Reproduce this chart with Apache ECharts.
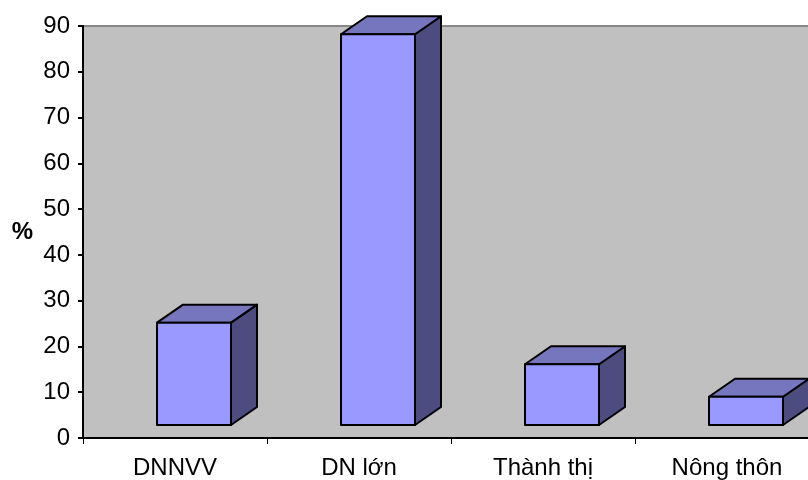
<!DOCTYPE html>
<html>
<head>
<meta charset="utf-8">
<script src="https://cdn.jsdelivr.net/npm/echarts@6/dist/echarts.min.js"></script>
<style>
  html, body { margin: 0; padding: 0; background: #fff; overflow: hidden; }
  #chart { width: 830px; height: 480px; }
</style>
</head>
<body>
<div id="chart"></div>
<script>
// Share (%) by group
const categories = ['DNNVV', 'DN lớn', 'Thành thị', 'Nông thôn'];
const values = [25.2, 88.2, 16.1, 9.0];
const yTicks = { min: 0, max: 90, interval: 10 };

const FONT = '"Liberation Sans", Arial, sans-serif';
const DEPTH_X = 26, DEPTH_Y = 18;   // 3-D depth offset of each box
const FLOOR_LIFT = 13;              // front edge of the floor sits above the axis line
const FRONT_SHIFT = -18, FRONT_W = 74;

const chart = echarts.init(document.getElementById('chart'), null, { renderer: 'canvas' });

function renderBox(params, api) {
  const i = api.value(0);
  const v = api.value(1);
  const top = api.coord([i, v]);
  const base = api.coord([i, 0]);
  const x0 = top[0] + FRONT_SHIFT;
  const x1 = x0 + FRONT_W;
  const yt = top[1];
  const yb = base[1] - FLOOR_LIFT;
  const stroke = { stroke: '#000', lineWidth: 2, lineJoin: 'round' };
  return {
    type: 'group',
    children: [
      {
        type: 'polygon',
        shape: { points: [[x1, yt], [x1 + DEPTH_X, yt - DEPTH_Y], [x1 + DEPTH_X, yb - DEPTH_Y], [x1, yb]] },
        style: Object.assign({ fill: '#4C4C80' }, stroke)
      },
      {
        type: 'polygon',
        shape: { points: [[x0, yt], [x0 + DEPTH_X, yt - DEPTH_Y], [x1 + DEPTH_X, yt - DEPTH_Y], [x1, yt]] },
        style: Object.assign({ fill: '#7676BE' }, stroke)
      },
      {
        type: 'rect',
        shape: { x: x0, y: yt, width: x1 - x0, height: yb - yt },
        style: Object.assign({ fill: '#9999FF' }, stroke)
      }
    ]
  };
}

chart.setOption({
  animation: false,
  backgroundColor: '#fff',
  grid: {
    left: 83, top: 26, width: 736, height: 412,
    show: true, backgroundColor: '#C0C0C0', borderColor: '#888', borderWidth: 2
  },
  xAxis: {
    type: 'category',
    data: categories,
    boundaryGap: true,
    axisLine: { show: true, lineStyle: { color: '#000', width: 2 } },
    axisTick: { show: true, interval: 0, length: 6, lineStyle: { color: '#000', width: 1 } },
    axisLabel: { interval: 0, margin: 18, color: '#000', fontFamily: FONT, fontSize: 24 },
    splitLine: { show: false }
  },
  yAxis: {
    type: 'value',
    min: yTicks.min, max: yTicks.max, interval: yTicks.interval,
    name: '%',
    nameLocation: 'middle',
    nameRotate: 0,
    nameGap: 50,
    nameTextStyle: { color: '#000', fontFamily: FONT, fontSize: 24, fontWeight: 'bold' },
    axisLine: { show: true, lineStyle: { color: '#000', width: 2 } },
    axisTick: { show: true, length: 5, lineStyle: { color: '#000', width: 2 } },
    axisLabel: { margin: 13, color: '#000', fontFamily: FONT, fontSize: 24 },
    splitLine: { show: false }
  },
  series: [{
    type: 'custom',
    renderItem: renderBox,
    clip: false,
    data: values.map((v, i) => [i, v])
  }]
});
</script>
</body>
</html>
